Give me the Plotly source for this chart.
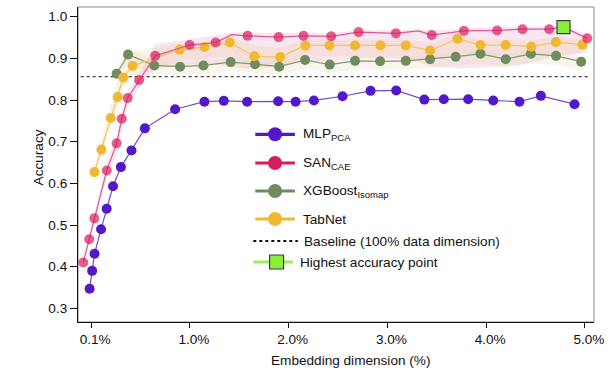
import plotly.graph_objects as go

# ---- accuracy vs. embedding dimension -------------------------------------
mlp_x = [-0.016, 0.010, 0.034, 0.100, 0.157, 0.221, 0.301, 0.408, 0.544, 0.850,
         1.147, 1.343, 1.579, 1.893, 2.070, 2.256, 2.545, 2.829, 3.089, 3.374,
         3.571, 3.818, 4.072, 4.337, 4.554, 4.895]
mlp_acc = [0.347, 0.390, 0.431, 0.490, 0.539, 0.593, 0.639, 0.679, 0.732, 0.778,
           0.796, 0.798, 0.796, 0.797, 0.796, 0.799, 0.809, 0.822, 0.823, 0.801,
           0.802, 0.802, 0.799, 0.796, 0.810, 0.790]

san_x = [-0.080, -0.020, 0.032, 0.158, 0.258, 0.310, 0.370, 0.485, 0.649, 0.997,
         1.261, 1.424, 1.584, 1.898, 2.150, 2.431, 2.708, 3.086, 3.314, 3.449,
         3.775, 4.111, 4.368, 4.638, 4.783, 5.024]
san_acc = [0.410, 0.466, 0.516, 0.631, 0.696, 0.755, 0.805, 0.848, 0.906, 0.932,
           0.938, 0.957, 0.954, 0.951, 0.954, 0.953, 0.963, 0.960, 0.966, 0.956,
           0.966, 0.967, 0.970, 0.970, 0.975, 0.948]
san_lo = [0.404, 0.460, 0.508, 0.615, 0.670, 0.730, 0.785, 0.830, 0.875, 0.885,
          0.885, 0.880, 0.875, 0.880, 0.890, 0.895, 0.900, 0.900, 0.890, 0.880,
          0.875, 0.880, 0.885, 0.900, 0.905, 0.915]
san_hi = [0.416, 0.472, 0.524, 0.650, 0.715, 0.770, 0.818, 0.862, 0.935, 0.945,
          0.955, 0.962, 0.962, 0.960, 0.962, 0.960, 0.968, 0.968, 0.970, 0.966,
          0.972, 0.975, 0.975, 0.976, 0.978, 0.958]
san_unmarked = [11, 18]   # path vertices drawn without a marker

xgb_x = [0.258, 0.373, 0.639, 0.900, 1.137, 1.413, 1.659, 1.903, 2.166, 2.416,
         2.672, 2.926, 3.186, 3.432, 3.691, 3.942, 4.198, 4.453, 4.708, 4.962]
xgb_acc = [0.863, 0.909, 0.883, 0.880, 0.883, 0.891, 0.886, 0.880, 0.896, 0.885,
           0.894, 0.893, 0.894, 0.898, 0.904, 0.911, 0.898, 0.911, 0.906, 0.892]
xgb_lo = [0.850, 0.890, 0.862, 0.860, 0.862, 0.870, 0.866, 0.860, 0.875, 0.865,
          0.873, 0.872, 0.873, 0.877, 0.882, 0.888, 0.877, 0.888, 0.884, 0.872]
xgb_hi = [0.875, 0.925, 0.893, 0.890, 0.893, 0.901, 0.896, 0.890, 0.906, 0.895,
          0.904, 0.903, 0.904, 0.908, 0.914, 0.921, 0.908, 0.921, 0.916, 0.902]

tab_x = [0.033, 0.104, 0.198, 0.268, 0.325, 0.420, 0.898, 1.147, 1.404, 1.652,
         1.913, 2.169, 2.414, 2.672, 2.929, 3.187, 3.432, 3.710, 3.942, 4.198,
         4.457, 4.706, 4.974]
tab_acc = [0.627, 0.681, 0.757, 0.807, 0.854, 0.882, 0.921, 0.927, 0.938, 0.905,
           0.903, 0.931, 0.931, 0.931, 0.931, 0.931, 0.919, 0.947, 0.932, 0.932,
           0.928, 0.939, 0.933]
tab_lo = [0.620, 0.670, 0.740, 0.780, 0.830, 0.855, 0.895, 0.900, 0.905, 0.880,
          0.880, 0.905, 0.905, 0.905, 0.905, 0.905, 0.895, 0.915, 0.905, 0.905,
          0.905, 0.910, 0.910]
tab_hi = [0.640, 0.705, 0.785, 0.845, 0.890, 0.915, 0.935, 0.940, 0.950, 0.930,
          0.925, 0.945, 0.945, 0.945, 0.945, 0.945, 0.935, 0.958, 0.945, 0.945,
          0.942, 0.952, 0.945]

baseline_acc = 0.856
baseline_x = [-0.106, 5.035]

tick_vals = [0, 1, 2, 3, 4, 5]
tick_text = ["0.1%", "1.0%", "2.0%", "3.0%", "4.0%", "5.0%"]
y_ticks = [0.3, 0.4, 0.5, 0.6, 0.7, 0.8, 0.9, 1.0]

# ---- styling ---------------------------------------------------------------
FONT = "Liberation Sans, Arial, sans-serif"
FS = 13.6
C_MLP, L_MLP = "#5318c9", "#6a4fd0"
C_SAN, L_SAN = "#d81b5e", "#e0559a"
C_XGB, L_XGB = "#6e8c5e", "#7f9b70"
C_TAB, L_TAB = "#f0b72f", "#f2c75a"
C_BEST = "#88f03a"

W, H = 611, 375
ML, MR, MT, MB = 78, 12, 7, 53
X_RANGE = [-0.1334, 5.092]
Y_RANGE = [0.2672, 1.0233]
PW, PH = W - ML - MR, H - MT - MB

fig = go.Figure()


def band(x, lo, hi, color):
    fig.add_trace(go.Scatter(
        x=list(x) + list(x)[::-1], y=list(hi) + list(lo)[::-1],
        fill="toself", fillcolor=color, line=dict(width=0),
        mode="lines", hoverinfo="skip", showlegend=False))


band(san_x, san_lo, san_hi, "rgba(226,140,185,0.22)")
band(tab_x, tab_lo, tab_hi, "rgba(238,200,150,0.25)")
band(xgb_x, xgb_lo, xgb_hi, "rgba(230,215,180,0.25)")

# baseline accuracy with the full data dimension
fig.add_trace(go.Scatter(x=baseline_x, y=[baseline_acc, baseline_acc], mode="lines",
                         line=dict(color="#444", width=1.2, dash="dot"),
                         showlegend=False, hoverinfo="skip"))


def series(x, y, line_c, mark_c, sizes=10):
    fig.add_trace(go.Scatter(x=x, y=y, mode="lines+markers",
                             line=dict(color=line_c, width=1.2),
                             marker=dict(color=mark_c, size=sizes, line=dict(width=0)),
                             showlegend=False))


series(xgb_x, xgb_acc, L_XGB, C_XGB)
series(tab_x, tab_acc, L_TAB, C_TAB)
series(mlp_x, mlp_acc, L_MLP, C_MLP)

best = max(range(len(san_acc)), key=lambda i: san_acc[i])
san_sizes = [0 if (i in san_unmarked or i == best) else 10 for i in range(len(san_x))]
series(san_x, san_acc, L_SAN, C_SAN, san_sizes)

# highest accuracy point
fig.add_trace(go.Scatter(x=[san_x[best]], y=[san_acc[best]], mode="markers",
                         marker=dict(symbol="square", size=13, color=C_BEST,
                                     line=dict(color="#3d3d3d", width=1.2)),
                         showlegend=False))

# ---- hand-built legend, laid out in pixel space on an overlay axis pair ----
LX0, LX1, LMK, LTX = 257, 297, 277, 303
rows = [
    ("MLP<sub>PCA</sub>", 134.3, L_MLP, C_MLP),
    ("SAN<sub>CAE</sub>", 163, L_SAN, C_SAN),
    ("XGBoost<sub>Isomap</sub>", 191, L_XGB, C_XGB),
    ("TabNet", 219, L_TAB, C_TAB),
]
for label, yy, lc, mc in rows:
    fig.add_trace(go.Scatter(x=[LX0, LX1], y=[yy, yy], mode="lines", xaxis="x2", yaxis="y2",
                             line=dict(color=mc, width=3.2), showlegend=False, hoverinfo="skip"))
    fig.add_trace(go.Scatter(x=[LMK], y=[yy], mode="markers", xaxis="x2", yaxis="y2",
                             marker=dict(color=mc, size=14, line=dict(width=0)),
                             showlegend=False, hoverinfo="skip"))
    fig.add_annotation(x=LTX, y=yy, xref="x2", yref="y2", text=label, showarrow=False,
                       xanchor="left", yanchor="middle",
                       font=dict(family=FONT, size=FS, color="#111"))

fig.add_trace(go.Scatter(x=[255, 300], y=[241, 241], mode="lines", xaxis="x2", yaxis="y2",
                         line=dict(color="#111", width=2.2, dash="dot"),
                         showlegend=False, hoverinfo="skip"))
fig.add_annotation(x=304, y=241, xref="x2", yref="y2", text="Baseline (100% data dimension)",
                   showarrow=False, xanchor="left", yanchor="middle",
                   font=dict(family=FONT, size=FS, color="#111"))

fig.add_trace(go.Scatter(x=[255, 295], y=[262, 262], mode="lines", xaxis="x2", yaxis="y2",
                         line=dict(color="#9bef5a", width=3), showlegend=False, hoverinfo="skip"))
fig.add_trace(go.Scatter(x=[278.5], y=[262], mode="markers", xaxis="x2", yaxis="y2",
                         marker=dict(symbol="square", size=14, color=C_BEST,
                                     line=dict(color="#3d3d3d", width=1.2)),
                         showlegend=False, hoverinfo="skip"))
fig.add_annotation(x=300, y=262, xref="x2", yref="y2", text="Highest accuracy point",
                   showarrow=False, xanchor="left", yanchor="middle",
                   font=dict(family=FONT, size=FS, color="#111"))

# axis titles (placed in paper space, outside the plotting area)
fig.add_annotation(x=(38 - ML) / PW, y=(H - MB - 157) / PH, xref="paper", yref="paper",
                   xanchor="center", yanchor="middle",
                   text="Accuracy", textangle=-90, showarrow=False,
                   font=dict(family=FONT, size=FS, color="#111"))
fig.add_annotation(x=(353 - ML) / PW, y=(H - MB - 360) / PH, xref="paper", yref="paper",
                   xanchor="center", yanchor="middle",
                   text="Embedding dimension (%)", showarrow=False,
                   font=dict(family=FONT, size=FS, color="#111"))

# grey frame on top / right
fig.add_shape(type="rect", xref="paper", yref="paper", x0=0, x1=1, y0=0, y1=1,
              line=dict(color="#8a8a8a", width=1), layer="below")

fig.update_layout(
    width=W, height=H, margin=dict(l=ML, r=MR, t=MT, b=MB),
    paper_bgcolor="white", plot_bgcolor="white", showlegend=False,
    font=dict(family=FONT, size=FS, color="#111"),
    xaxis=dict(range=X_RANGE, tickvals=tick_vals, ticktext=tick_text, showgrid=False,
               zeroline=False, showline=True, linecolor="#111", linewidth=1,
               ticks="outside", ticklen=5, tickcolor="#111", ticklabelshift=4,
               tickfont=dict(family=FONT, size=FS, color="#111")),
    yaxis=dict(range=Y_RANGE, tickvals=y_ticks, tickformat=".1f", showgrid=False,
               zeroline=False, showline=True, linecolor="#111", linewidth=1,
               ticks="outside", ticklen=7, tickcolor="#111",
               tickfont=dict(family=FONT, size=FS, color="#111")),
    xaxis2=dict(overlaying="x", range=[ML, W - MR], visible=False, fixedrange=True),
    yaxis2=dict(overlaying="y", range=[H - MB, MT], visible=False, fixedrange=True),
)

fig.write_html("out.html")
